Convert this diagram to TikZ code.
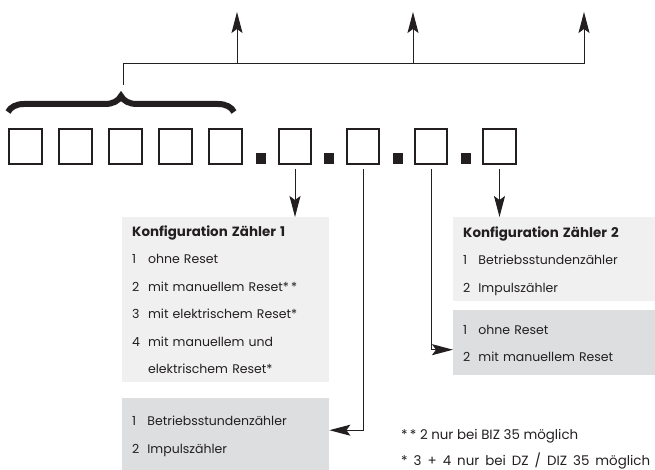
\documentclass[tikz,border=0pt]{standalone}
\usepackage{fontspec}
\setmainfont{Poppins}
\usetikzlibrary{arrows.meta,decorations.pathreplacing}

\definecolor{lightbox}{HTML}{F0F0F0}
\definecolor{darkbox}{HTML}{DDDEDF}
\definecolor{ink}{HTML}{231F20}
\renewcommand{\arraystretch}{1.83}
\newcommand{\boxhead}[1]{\multicolumn{2}{@{}l}{\fontsize{13.4}{15}\selectfont\bfseries #1}}

\tikzset{
  digit/.style={draw=ink, line width=2.4pt, minimum width=32.5pt, minimum height=34.5pt, inner sep=0pt},
  sep/.style={fill=ink, minimum width=10pt, minimum height=11pt, inner sep=0pt},
  infobox/.style={anchor=north west, inner xsep=10pt, inner ysep=0pt, text=ink, font=\fontsize{12.5}{15}\selectfont},
  link/.style={draw=ink, line width=1pt},
  tip/.style={-{Stealth[length=21pt,width=11pt,inset=4pt]}},
}

\begin{document}
\begin{tikzpicture}[x=1pt, y=-1pt]
  \useasboundingbox (0,0) rectangle (655,470);

  % code positions
  \foreach \n/\x in {1/25.5, 2/75.5, 3/125.5, 4/175.5, 5/225.5, 6/295, 7/363, 8/431, 9/499.5}
    \node[digit] (b\n) at (\x,146.5) {};
  \foreach \n/\x in {1/261, 2/329, 3/398, 4/466}
    \node[sep] (p\n) at (\x,158.5) {};

  % brace over the first five
  \draw[ink, line width=6pt, decorate, decoration={brace, amplitude=16pt}] (8,112) -- (234,112);

  \coordinate (br) at (123,85);
  \coordinate (hr) at (584,64);
  \coordinate (u1) at (237,12);
  \coordinate (u2) at (413,12);
  \coordinate (u3) at (584,12);
  \draw[link] (br) |- (hr);
  \foreach \u in {u1,u2,u3}
    \draw[link,tip] (\u |- hr) -- (\u);

  % option boxes
  \node[infobox, fill=lightbox, text width=187pt, minimum height=164pt] (kA) at (122,217) {%
    \begin{tabular}{@{}l@{\hspace{8pt}}l@{}}
      \boxhead{Konfiguration Zähler 1}\\
      1 & ohne Reset\\
      2 & mit manuellem Reset*\,*\\
      3 & mit elektrischem Reset*\\
      4 & mit manuellem und\\
        & elektrischem Reset*
    \end{tabular}};
  \node[infobox, fill=darkbox, text width=187pt, minimum height=72pt] (kB) at (122,398) {%
    \begin{tabular}{@{}l@{\hspace{8pt}}l@{}}
      1 & Betriebsstundenzähler\\
      2 & Impulszähler
    \end{tabular}};
  \node[infobox, fill=lightbox, text width=182pt, minimum height=84pt] (kC) at (453,217) {%
    \begin{tabular}{@{}l@{\hspace{8pt}}l@{}}
      \boxhead{Konfiguration Zähler 2}\\
      1 & Betriebsstundenzähler\\
      2 & Impulszähler
    \end{tabular}};
  \node[infobox, fill=darkbox, text width=182pt, minimum height=65pt] (kD) at (453,310) {%
    \begin{tabular}{@{}l@{\hspace{8pt}}l@{}}
      1 & ohne Reset\\
      2 & mit manuellem Reset
    \end{tabular}};

  \draw[link,tip,shorten <=4pt] (b6.south) -- (b6.south |- kA.north);
  \draw[link,tip,shorten <=4pt] (b9.south) -- (b9.south |- kC.north);
  \draw[link,tip,shorten <=4pt] (b7.south) |- ([yshift=4pt]kB.east);
  \draw[link,tip,shorten <=4pt] (b8.south) |- ([yshift=-7pt]kD.west);

  % footnotes
  \node[anchor=north west, align=left, inner sep=0pt, text=ink, font=\fontsize{13.4}{26}\selectfont] (fn) at (401,429)
    {*\,* 2 nur bei BIZ 35 möglich\\{\spaceskip=6pt plus 1pt * 3 + 4 nur bei DZ / DIZ 35 möglich}};
\end{tikzpicture}
\end{document}
